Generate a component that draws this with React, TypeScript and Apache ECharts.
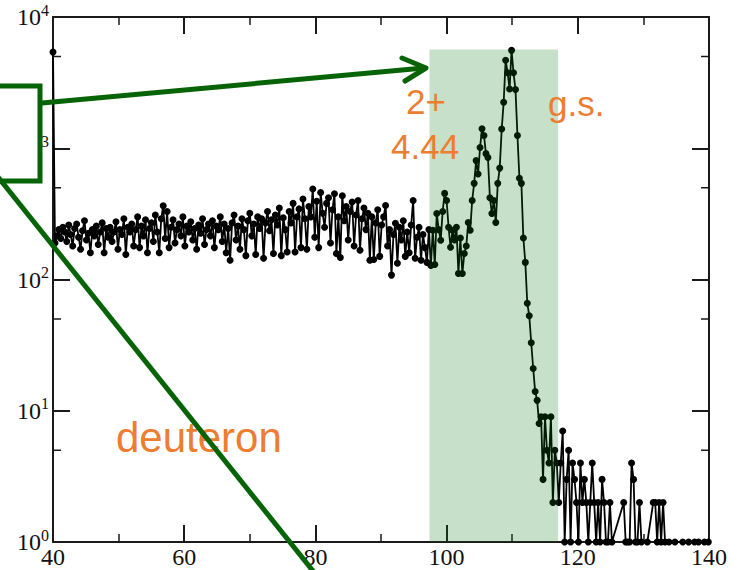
import React, { useEffect, useRef } from "react";
import * as echarts from "echarts";

// Spectrum: counts per bin, bins start at 40 with a width of 0.3
const BIN_START = 40;
const BIN_WIDTH = 0.3;

// 40.0 .. 96.7 : flat background region
const countsBackground = [
  5400, 190, 215, 240, 205, 250, 230, 195, 260, 220,
  180, 245, 265, 210, 170, 235, 280, 200, 225, 160,
  240, 215, 255, 185, 230, 270, 160, 245, 210, 250,
  195, 230, 275, 170, 240, 220, 290, 155, 250, 230,
  265, 180, 240, 300, 175, 255, 215, 285, 160, 245,
  270, 195, 310, 230, 160, 290, 365, 205, 330, 175,
  250, 285, 190, 240, 265, 215, 300, 180, 255, 230,
  275, 200, 245, 170, 260, 225, 290, 185, 240, 265,
  215, 280, 175, 255, 240, 300, 195, 265, 160, 245,
  140, 270, 310, 200, 255, 170, 290, 240, 152, 280,
  320, 215, 265, 155, 300, 245, 290, 145, 270, 330,
  235, 285, 158, 310, 260, 350, 152, 295, 240, 162,
  330, 270, 380, 162, 300, 345, 175, 410, 290, 170,
  360, 300, 490, 210, 395, 175, 460, 320, 250, 380,
  420, 190, 340, 450, 158, 300, 147, 435, 280, 360,
  200, 330, 390, 180, 310, 400, 167, 290, 350, 240,
  320, 140, 300, 142, 270, 340, 150, 260, 300, 366,
  180, 240, 108, 220, 268, 133, 250, 200, 280, 150,
  230, 160, 260, 400, 145, 210, 250, 140, 220, 175,
];

// 97.0 .. 112.0 : 4.44 (2+) and ground-state peaks
const countsPeaks = [
  135, 240, 128, 237, 130, 318, 240, 199, 330, 453,
  400, 250, 176, 237, 200, 250, 111, 207, 111, 158,
  180, 272, 237, 400, 540, 805, 637, 1014, 1410, 1250,
  910, 850, 420, 318, 400, 272, 540, 706, 1400, 2240,
  4680, 3760, 2830, 5570, 3760, 2800, 1250, 590, 540, 207,
  135,
];

// 112.3 .. 139.9 : falling edge and tail (null = empty bin)
const countsTail = [
  66, 53, 33, 21, 14, 12, 8, 9, 3, 9,
  5, 4, 9, 2, 5, 4, 2, 4, 7, 1,
  3, 5, 1, 4, 3, 2, 1, 4, 2, 3,
  2, 1, 2, 4, 2, 1, 2, 1, 3, 2,
  1, 1, 2, 1, null, null, null, null, null, 2,
  1, 1, 1, 4, 3, 1, 1, 2, 1, null,
  null, 1, null, null, 2, 2, 1, 2, 1, 2,
  1, null, 1, null, null, 1, null, null, null, 1,
  null, null, 1, null, null, 1, null, 1, null, null,
  1, null, 1,
];

const X_MIN = 40;
const X_MAX = 140;
const X_INTERVAL = 20;
const Y_MIN = 1;
const Y_MAX = 10000;
const yMinorTicks = [5, 50, 500, 5000];

// gated region (shaded)
const shadeX = [97.4, 117.0];
const shadeTop = 5650;

const annotationTexts = [
  { text: "2+", x: 406, y: 101, size: 35 },
  { text: "4.44", x: 391, y: 146, size: 35 },
  { text: "g.s.", x: 548, y: 103, size: 35 },
  { text: "deuteron", x: 116, y: 437, size: 42 },
];

const AXIS_COLOR = "#1a1a1a";
const SERIF = "Liberation Serif";
const SANS = "Liberation Sans";
const GREEN = "#066406";
const ORANGE = "#ED7D31";

export default function App() {
  const ref = useRef<HTMLDivElement>(null);

  useEffect(() => {
    if (!ref.current) return;
    const chart = echarts.init(ref.current, null, { renderer: "svg" });

    const counts = [...countsBackground, ...countsPeaks, ...countsTail];
    const data = counts.map((c, i) => [
      Math.round((BIN_START + i * BIN_WIDTH) * 10) / 10,
      c,
    ]);

    const tickCommon = {
      axisLine: { show: true, onZero: false, lineStyle: { color: AXIS_COLOR, width: 2 } },
      axisTick: { show: true, inside: true, length: 17, lineStyle: { color: AXIS_COLOR, width: 2 } },
      splitLine: { show: false },
    };

    const option: any = {
      animation: false,
      textStyle: { fontFamily: SERIF },
      grid: {
        left: 53,
        right: 39,
        top: 17,
        bottom: 28,
        containLabel: false,
        outerBoundsMode: "none",
      },
      xAxis: [
        {
          type: "value",
          position: "bottom",
          min: X_MIN,
          max: X_MAX,
          interval: X_INTERVAL,
          ...tickCommon,
          minorTick: { show: true, splitNumber: 2, length: 8, lineStyle: { color: AXIS_COLOR, width: 1.5 } },
          axisLabel: {
            show: true,
            margin: 3,
            fontFamily: SERIF,
            fontSize: 24,
            color: "#111",
            showMinLabel: true,
            showMaxLabel: true,
          },
        },
        {
          type: "value",
          position: "top",
          min: X_MIN,
          max: X_MAX,
          interval: X_INTERVAL,
          ...tickCommon,
          minorTick: { show: true, splitNumber: 2, length: 8, lineStyle: { color: AXIS_COLOR, width: 1.5 } },
          axisLabel: { show: false },
        },
      ],
      yAxis: [
        {
          type: "log",
          logBase: 10,
          position: "left",
          min: Y_MIN,
          max: Y_MAX,
          ...tickCommon,
          axisLabel: {
            show: true,
            margin: 4,
            fontFamily: SERIF,
            showMinLabel: true,
            showMaxLabel: true,
            formatter: (v: number) => `{b|10}{s|${Math.round(Math.log10(v))}}`,
            rich: {
              b: { fontFamily: SERIF, fontSize: 24, color: "#111", lineHeight: 30, verticalAlign: "middle" },
              s: { fontFamily: SERIF, fontSize: 16, color: "#111", lineHeight: 16, verticalAlign: "top" },
            },
          },
        },
        {
          type: "log",
          logBase: 10,
          position: "right",
          min: Y_MIN,
          max: Y_MAX,
          ...tickCommon,
          axisLabel: { show: false },
        },
      ],
      series: [
        {
          type: "line",
          xAxisIndex: 0,
          yAxisIndex: 0,
          data,
          connectNulls: true,
          symbol: "circle",
          symbolSize: 7,
          showSymbol: true,
          lineStyle: { color: "#000", width: 1.8 },
          itemStyle: { color: "#000" },
          z: 2,
          silent: true,
          markArea: {
            silent: true,
            z: 5,
            itemStyle: { color: "rgba(10,120,20,0.23)", borderWidth: 0 },
            data: [[{ coord: [shadeX[0], Y_MIN] }, { coord: [shadeX[1], shadeTop] }]],
          },
        },
        {
          type: "custom",
          xAxisIndex: 0,
          yAxisIndex: 0,
          silent: true,
          clip: false,
          z: 3,
          data: yMinorTicks.map((v) => [X_MIN, v]),
          encode: { x: 0, y: 1 },
          renderItem: (params: any, api: any) => {
            const v = api.value(1);
            const l = api.coord([X_MIN, v]);
            const r = api.coord([X_MAX, v]);
            const style = { stroke: AXIS_COLOR, lineWidth: 1.5 };
            return {
              type: "group",
              children: [
                { type: "line", shape: { x1: l[0], y1: l[1], x2: l[0] + 8, y2: l[1] }, style },
                { type: "line", shape: { x1: r[0], y1: r[1], x2: r[0] - 8, y2: r[1] }, style },
              ],
            };
          },
        },
      ],
      graphic: [
        ...annotationTexts.map((t) => ({
          type: "text",
          x: t.x,
          y: t.y,
          z: 100,
          silent: true,
          style: {
            text: t.text,
            fill: ORANGE,
            fontFamily: SANS,
            fontSize: t.size,
            verticalAlign: "middle",
            align: "left",
          },
        })),
        {
          type: "rect",
          z: 101,
          silent: true,
          shape: { x: -10, y: 86, width: 50, height: 95 },
          style: { fill: "#fff", stroke: GREEN, lineWidth: 5 },
        },
        {
          type: "line",
          z: 101,
          silent: true,
          shape: { x1: 42, y1: 103, x2: 424, y2: 68 },
          style: { stroke: GREEN, lineWidth: 5, lineCap: "round" },
        },
        {
          type: "polyline",
          z: 101,
          silent: true,
          shape: { points: [[402, 58], [426, 68], [405, 81]] },
          style: { stroke: GREEN, lineWidth: 5, lineCap: "round", lineJoin: "round", fill: null },
        },
        {
          type: "line",
          z: 101,
          silent: true,
          shape: { x1: -2, y1: 177, x2: 317, y2: 576 },
          style: { stroke: GREEN, lineWidth: 5 },
        },
      ],
    };

    chart.setOption(option);
    return () => {
      chart.dispose();
    };
  }, []);

  return (
    <div
      ref={ref}
      style={{ position: "fixed", left: 0, top: 0, width: 748, height: 570, background: "#fff" }}
    />
  );
}
